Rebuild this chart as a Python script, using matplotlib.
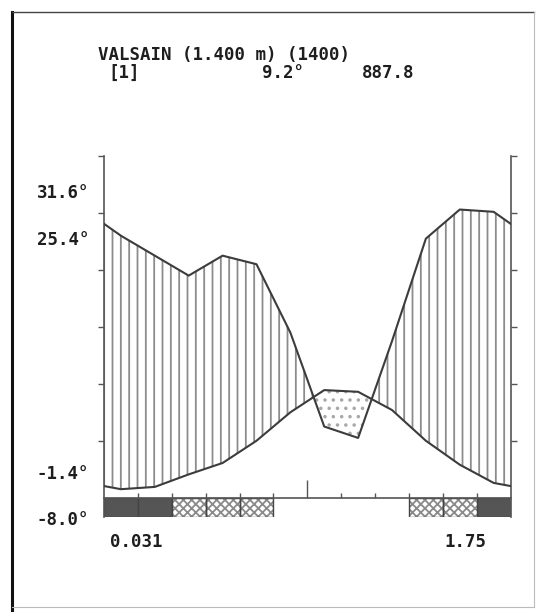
import numpy as np
import matplotlib
matplotlib.use("Agg")
import matplotlib.pyplot as plt
from matplotlib.lines import Line2D
from matplotlib.ticker import FixedLocator

# monthly means, Jan..Dec
months = ['Jan', 'Feb', 'Mar', 'Apr', 'May', 'Jun',
          'Jul', 'Aug', 'Sep', 'Oct', 'Nov', 'Dec']
temp = [1.5, 1.9, 4.1, 6.1, 10.0, 15.0, 18.9, 18.6, 15.4, 10.0, 5.8, 2.6]
precip = [92, 85, 78, 85, 82, 58, 25, 21, 55, 91, 112, 104]
# 2 = sure frost, 1 = probable frost, 0 = none
frost = [2, 2, 1, 1, 1, 0, 0, 0, 0, 1, 1, 2]

station = 'VALSAIN (1.400 m) (1400)'
years = '[1]'
mean_temp = '9.2°'
annual_precip = '887.8'
left_labels = ['31.6°', '25.4°', '-1.4°', '-8.0°']
bottom_left = '0.031'
bottom_right = '1.75'

W, H = 542, 612
INK = '#3c3c3c'
GRID = '#8c8c8c'


def px(x, y):
    """pixel position (from top-left) -> figure fraction"""
    return x / W, 1 - y / H


def precip_scale(p):
    """Walter-Lieth: 10 C = 20 mm, above 100 mm compressed 1/10."""
    p = np.asarray(p, dtype=float)
    return np.where(p <= 100, p / 2.0, 50 + (p - 100) / 20.0)


def main():
    plt.rcParams['hatch.linewidth'] = 1.3
    fig = plt.figure(figsize=(W / 100, H / 100), dpi=100)
    fig.patch.set_facecolor('white')

    x0, y0 = px(104, 517.1)
    x1, y1 = px(510.6, 156)
    ax = fig.add_axes([x0, y0, x1 - x0, y1 - y0])
    ax.set_xlim(0, 12)
    ax.set_ylim(-3.4, 60)
    ax.patch.set_alpha(0)

    # wrap Dec/Jan around so the curves run edge to edge
    xm = np.arange(12) + 0.5
    xw = np.concatenate([[xm[0] - 1], xm, [xm[-1] + 1]])
    tw = np.array([temp[-1]] + temp + [temp[0]])
    pw = precip_scale([precip[-1]] + precip + [precip[0]])

    ax.fill_between(xw, tw, pw, where=pw >= tw, interpolate=True,
                    facecolor='none', edgecolor=GRID, hatch='||',
                    linewidth=0, zorder=1)
    ax.fill_between(xw, tw, pw, where=pw < tw, interpolate=True,
                    facecolor='none', edgecolor='#a8a8a8', hatch='..',
                    linewidth=0, zorder=1)
    ax.plot(xw, pw, color=INK, lw=1.5, zorder=3)
    ax.plot(xw, tw, color=INK, lw=1.5, zorder=3)

    # frost bars under the axis
    fr = np.array(frost)
    sure = fr == 2
    prob = fr == 1
    ax.bar(xm[sure], -3.3, width=1, bottom=0, color='#555555',
           edgecolor='#444444', linewidth=1, zorder=2)
    ax.bar(xm[prob], -3.3, width=1, bottom=0, color='white',
           edgecolor='#8a8a8a', hatch='xxxx', linewidth=0, zorder=2)
    ax.bar(xm[prob], -3.3, width=1, bottom=0, color='none',
           edgecolor='#444444', linewidth=1, zorder=2)

    # axes
    ax.spines['top'].set_visible(False)
    ax.spines['bottom'].set_position(('data', 0))
    for s in ['left', 'right', 'bottom']:
        ax.spines[s].set_color('#555555')
        ax.spines[s].set_linewidth(1.2)
    ax.set_yticks([10, 20, 30, 40, 50, 60])
    ax.tick_params(axis='y', left=True, right=True, direction='out',
                   length=4.3, width=1, color='#555555',
                   labelleft=False, labelright=False)
    ax.xaxis.set_major_locator(FixedLocator([1, 2, 3, 4, 5, 7, 8, 9, 10, 11]))
    ax.xaxis.set_minor_locator(FixedLocator([6]))
    ax.tick_params(axis='x', which='major', direction='in', length=3.6,
                   width=1, color='#555555', labelbottom=False)
    ax.tick_params(axis='x', which='minor', direction='in', length=13,
                   width=1, color='#555555', labelbottom=False)

    # texts
    font = dict(family='DejaVu Sans Mono', weight='bold', size=12.5,
                color='#1e1e1e', va='center')
    fig.text(*px(98, 55), station, ha='left', **font)
    fig.text(*px(108, 73), years, ha='left', **font)
    fig.text(*px(262, 73), mean_temp, ha='left', **font)
    fig.text(*px(362, 73), annual_precip, ha='left', **font)
    for lab, yy in zip(left_labels, [193, 240, 474, 520]):
        fig.text(*px(89, yy), lab, ha='right', **font)
    fig.text(*px(110, 542), bottom_left, ha='left', **font)
    fig.text(*px(486, 542), bottom_right, ha='right', **font)

    # page frame
    frame = [((12, 12), (12, 612), 2.2, '#111111'),
             ((12, 12), (534, 12), 1.0, '#444444'),
             ((534, 12), (534, 607), 0.8, '#bbbbbb'),
             ((12, 607), (534, 607), 0.8, '#bbbbbb')]
    for a, b, lw, c in frame:
        xa, ya = px(*a)
        xb, yb = px(*b)
        fig.add_artist(Line2D([xa, xb], [ya, yb], lw=lw, color=c,
                              transform=fig.transFigure))

    fig.savefig('out.png', dpi=100, facecolor='white')


if __name__ == "__main__":
    main()
